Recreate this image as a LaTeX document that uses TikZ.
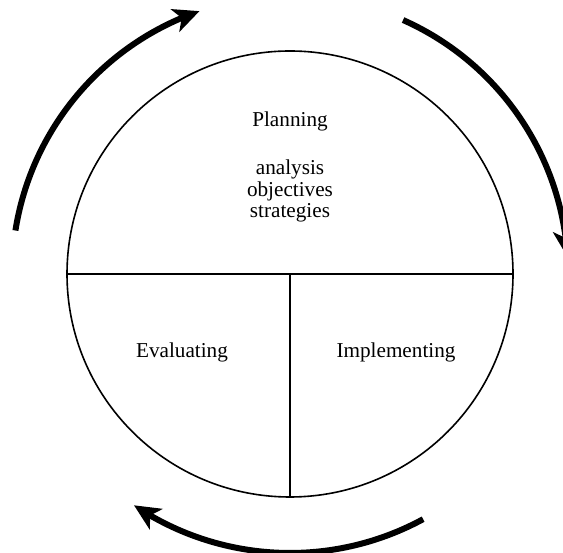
\documentclass[tikz,border=0pt]{standalone}
\usepackage{fontspec}
\setmainfont{Liberation Serif}
\usetikzlibrary{arrows.meta,bending,calc}
\begin{document}
\begin{tikzpicture}[x=1bp,y=1bp,
  rim/.style={draw,circle,line width=1.6bp,minimum size=446bp,inner sep=0pt},
  divider/.style={line width=1.6bp},
  cyclearrow/.style={line width=6bp,-{Stealth[length=26bp,width=24bp,inset=7bp,flex]}},
  lbl/.style={font=\fontsize{21.2bp}{21.5bp}\selectfont,anchor=base,inner sep=0pt,align=center}]
\useasboundingbox (0,0) rectangle (563,553);
\coordinate (C) at (290,279);
\node[rim] (c) at (C) {};
\draw[divider] (c.west) -- (c.east);
\draw[divider] (c.center) -- (c.south);
\node[lbl] (plan) at (290,426) {Planning};
\node[lbl] (a1) at (290,378) {analysis};
\node[lbl] (a2) at (290,356.5) {objectives};
\node[lbl] (a3) at (290,335) {strategies};
\node[lbl] (eval) at (182,195) {Evaluating};
\node[lbl] (impl) at (396,195) {Implementing};
\draw[cyclearrow] ($(C)+(171:278)$) arc[start angle=171,end angle=109,radius=278];
\draw[cyclearrow] ($(C)+(66:278)$) arc[start angle=66,end angle=3.5,radius=278];
\draw[cyclearrow] ($(C)+(-61.5:279)$) arc[start angle=-61.5,end angle=-124,radius=279];
\end{tikzpicture}
\end{document}
